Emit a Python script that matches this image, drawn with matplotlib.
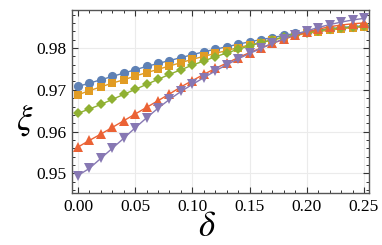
import numpy as np
import matplotlib.pyplot as plt
from matplotlib.ticker import MultipleLocator

delta = [0.00, 0.01, 0.02, 0.03, 0.04, 0.05, 0.06, 0.07, 0.08, 0.09,
         0.10, 0.11, 0.12, 0.13, 0.14, 0.15, 0.16, 0.17, 0.18, 0.19,
         0.20, 0.21, 0.22, 0.23, 0.24, 0.25]

xi_blue = [0.9708, 0.9716, 0.9724, 0.9732, 0.9740, 0.9748, 0.9756, 0.9763, 0.9770, 0.9777,
           0.9784, 0.9791, 0.9797, 0.9803, 0.9809, 0.9815, 0.9820, 0.9825, 0.9830, 0.9835,
           0.9839, 0.9843, 0.9846, 0.9849, 0.9851, 0.9853]
xi_orange = [0.9688, 0.9698, 0.9707, 0.9716, 0.9724, 0.9733, 0.9741, 0.9749, 0.9757, 0.9765,
             0.9773, 0.9780, 0.9787, 0.9794, 0.9801, 0.9807, 0.9813, 0.9819, 0.9825, 0.9830,
             0.9835, 0.9839, 0.9843, 0.9846, 0.9849, 0.9851]
xi_green = [0.9644, 0.9654, 0.9665, 0.9677, 0.9689, 0.9701, 0.9713, 0.9725, 0.9737, 0.9748,
            0.9759, 0.9769, 0.9779, 0.9788, 0.9797, 0.9805, 0.9813, 0.9820, 0.9826, 0.9832,
            0.9837, 0.9841, 0.9845, 0.9848, 0.9850, 0.9852]
xi_red = [0.9563, 0.9579, 0.9594, 0.9610, 0.9626, 0.9642, 0.9658, 0.9674, 0.9690, 0.9707,
          0.9722, 0.9737, 0.9751, 0.9764, 0.9777, 0.9789, 0.9800, 0.9811, 0.9821, 0.9830,
          0.9838, 0.9845, 0.9851, 0.9855, 0.9858, 0.9860]
xi_purple = [0.9495, 0.9512, 0.9536, 0.9560, 0.9584, 0.9609, 0.9633, 0.9656, 0.9677, 0.9696,
             0.9713, 0.9729, 0.9745, 0.9760, 0.9774, 0.9787, 0.9799, 0.9811, 0.9822, 0.9832,
             0.9841, 0.9849, 0.9856, 0.9862, 0.9867, 0.9871]

series = [
    (xi_blue, '#5E81B5', 'o', 6.6),
    (xi_orange, '#E19C24', 's', 6.2),
    (xi_green, '#8FB032', 'D', 4.7),
    (xi_red, '#EB6235', '^', 7.2),
    (xi_purple, '#8778B3', 'v', 7.2),
]

plt.rcParams['font.family'] = ['Liberation Serif', 'DejaVu Serif']
plt.rcParams['mathtext.fontset'] = 'stix'

fig = plt.figure(figsize=(3.82, 2.45), dpi=100)
ax = fig.add_axes([0.1885, 0.212, 0.7775, 0.749])

for vals, col, mk, ms in series:
    ax.plot(delta, vals, color=col, lw=1.0, marker=mk, ms=ms,
            markeredgewidth=0, zorder=3)

ax.set_xlim(-0.0052, 0.2544)
ax.set_ylim(0.9453, 0.9892)
ax.xaxis.set_major_locator(MultipleLocator(0.05))
ax.xaxis.set_minor_locator(MultipleLocator(0.01))
ax.yaxis.set_major_locator(MultipleLocator(0.01))
ax.yaxis.set_minor_locator(MultipleLocator(0.002))
ax.xaxis.set_major_formatter(plt.FuncFormatter(lambda v, p: f'{v:.2f}'))
ax.yaxis.set_major_formatter(plt.FuncFormatter(lambda v, p: f'{v:.2f}'))

ax.grid(True, which='major', color='#ebebeb', lw=0.8, zorder=0)
ax.tick_params(which='both', direction='in', top=True, right=True,
               color='#333333', labelsize=12.5, pad=4)
ax.tick_params(which='major', length=4.5, width=0.8)
ax.tick_params(which='minor', length=2.5, width=0.7)
for s in ax.spines.values():
    s.set_color('#555555')
    s.set_linewidth(1.0)

# axis labels placed like the original frame labels
ax.text(0.456, -0.19, r'$\delta$', fontsize=25, ha='center', va='center',
        transform=ax.transAxes)
ax.text(-0.158, 0.40, r'$\xi$', fontsize=25, ha='center', va='center',
        transform=ax.transAxes)

fig.savefig('out.png', dpi=100)
